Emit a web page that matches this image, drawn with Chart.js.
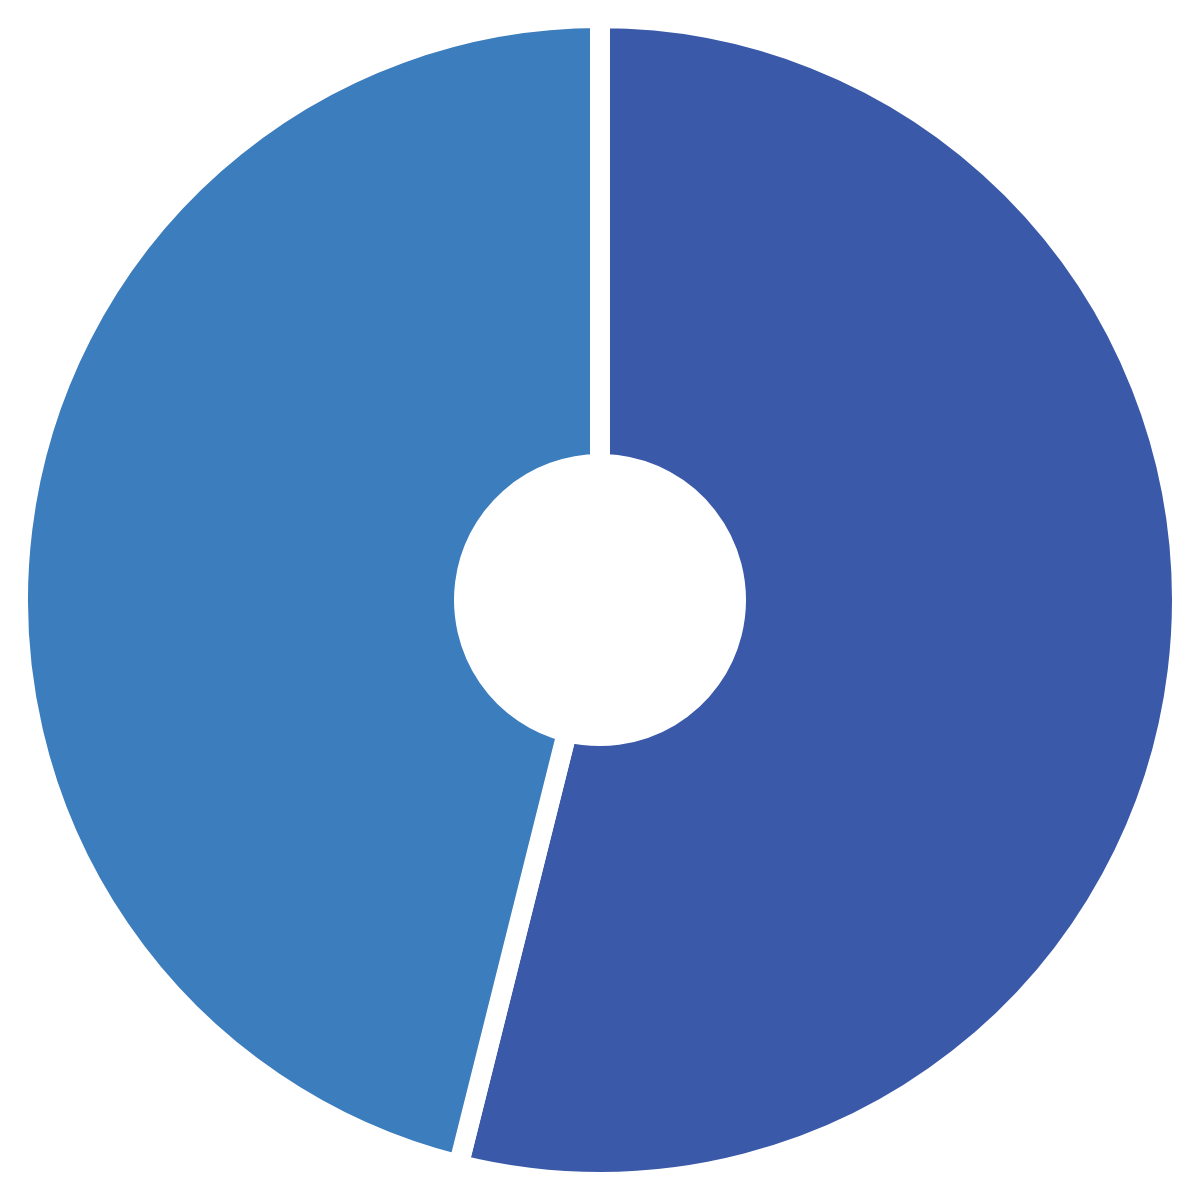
<!DOCTYPE html>
<html>
<head>
<meta charset="utf-8">
<title>Doughnut</title>
<script src="https://cdn.jsdelivr.net/npm/chart.js@4.4.1/dist/chart.umd.min.js"></script>
<style>
  html, body { margin: 0; padding: 0; background: #ffffff; }
  #wrap { width: 1200px; height: 1200px; }
</style>
</head>
<body>
<div id="wrap"><canvas id="chart-area"></canvas></div>
<script>
// two slices, clockwise from 12 o'clock
var labels = ['A', 'B'];
var values = [53.9, 46.1];
var colors = ['#3a59a8', '#3b7dbd'];

var config = {
  type: 'doughnut',
  data: {
    labels: labels,
    datasets: [{
      data: values,
      backgroundColor: colors,
      borderColor: '#ffffff',
      borderWidth: 20
    }]
  },
  options: {
    responsive: true,
    maintainAspectRatio: false,
    animation: false,
    cutout: 136,
    layout: { padding: 8 },
    plugins: {
      legend: { display: false },
      tooltip: { enabled: false }
    }
  }
};

var ctx = document.getElementById('chart-area').getContext('2d');
window.myDoughnut = new Chart(ctx, config);
</script>
</body>
</html>
